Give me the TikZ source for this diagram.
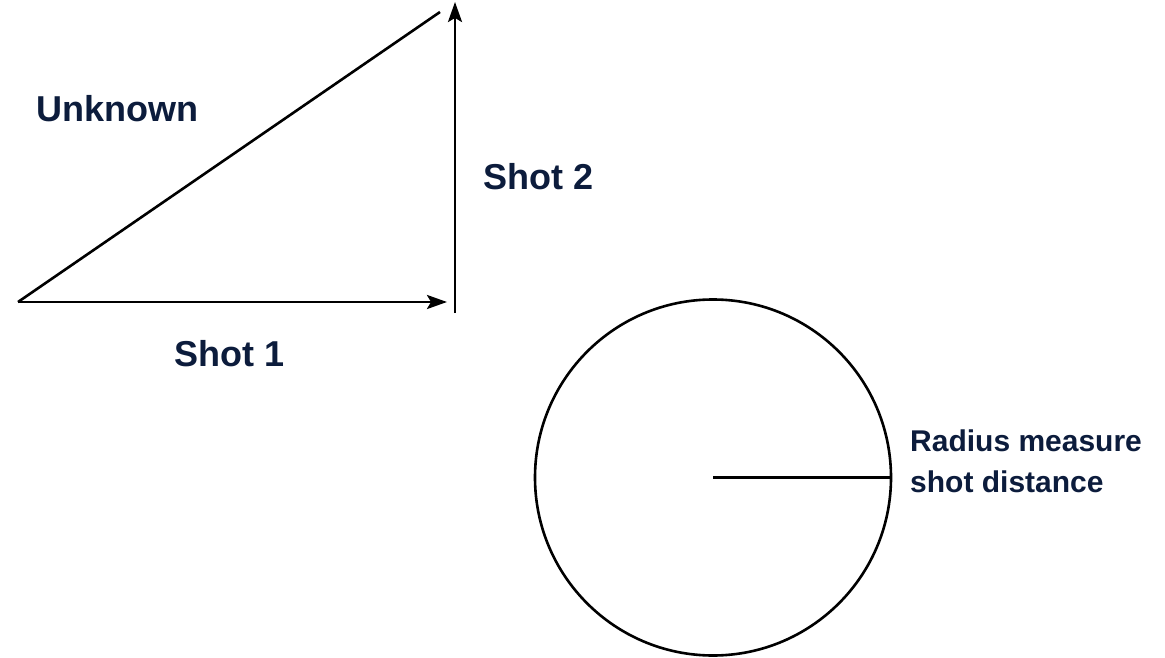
\documentclass[tikz,border=0pt]{standalone}
\usepackage{fontspec}
\setmainfont{Liberation Sans}
\usetikzlibrary{arrows.meta}
\definecolor{navy}{HTML}{0C1C3C}
\tikzset{
  line/.style={line width=2.6pt, black},
  arr/.style={line, -{Stealth[length=20pt,width=14pt,inset=4pt]}},
  biglabel/.style={font=\fontsize{36}{40}\selectfont\bfseries, text=navy, anchor=west, inner sep=0pt},
  smalllabel/.style={font=\fontsize{30}{41}\selectfont\bfseries, text=navy, anchor=west, inner sep=0pt, align=left},
}
\begin{document}
\begin{tikzpicture}[x=1pt,y=-1pt]
\useasboundingbox (0,0) rectangle (1165,658);
\coordinate (O) at (18,302);
\coordinate (A) at (447,302);
\coordinate (T) at (440,12);
\coordinate (Vb) at (455,313);
\coordinate (Vt) at (455,2);
\coordinate (C) at (713,477.5);
\coordinate (R) at (891,477.5);
\draw[line] (O) -- (T);
\draw[arr] (O) -- (A);
\draw[arr] (Vb) -- (Vt);
\draw[line] (C) circle (178);
\draw[line] (C) -- (R);
\node[biglabel] (unk) at (36,109) {Unknown};
\node[biglabel] (s2) at (483,177) {Shot 2};
\node[biglabel] (s1) at (174,354) {Shot 1};
\node[smalllabel] (rad) at (910,461) {Radius measure\\shot distance};
\end{tikzpicture}
\end{document}
